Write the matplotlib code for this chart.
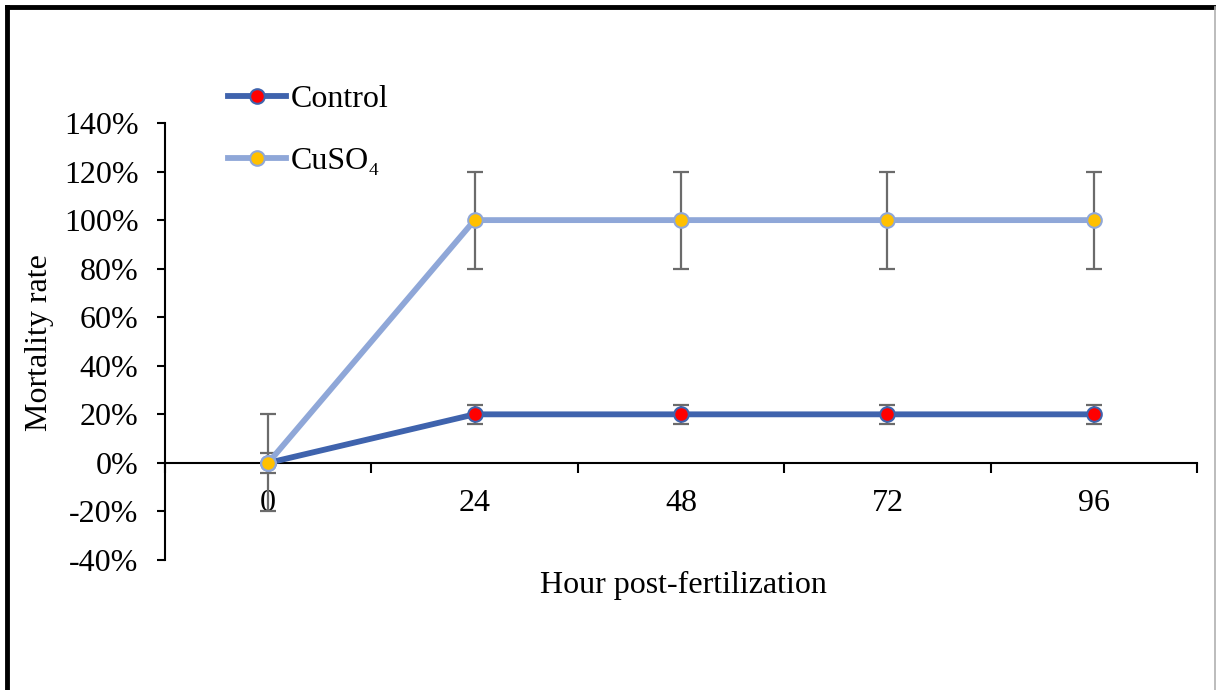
import numpy as np
import matplotlib
matplotlib.use("Agg")
from matplotlib import pyplot as plt
from matplotlib.lines import Line2D
from matplotlib.ticker import FuncFormatter

plt.rcParams['font.family'] = ['Liberation Serif', 'DejaVu Serif']

# data
hours = ['0', '24', '48', '72', '96']
control = [0.0, 0.2, 0.2, 0.2, 0.2]
control_err = [0.04, 0.04, 0.04, 0.04, 0.04]
cuso4 = [0.0, 1.0, 1.0, 1.0, 1.0]
cuso4_err = [0.2, 0.2, 0.2, 0.2, 0.2]

W, H = 1216, 690
fig = plt.figure(figsize=(W / 100, H / 100), dpi=100)
ax = fig.add_axes([165 / W, 1 - 560 / H, (1197 - 165) / W, (560 - 123) / H])

x = np.arange(len(hours))
fs = 23
lw = 4.2
ms = 10.5

ax.errorbar(x, control, yerr=control_err, fmt='none', ecolor='#6b6b6b',
            elinewidth=1.6, capsize=6, capthick=1.6, zorder=2)
ax.errorbar(x, cuso4, yerr=cuso4_err, fmt='none', ecolor='#6b6b6b',
            elinewidth=1.6, capsize=6, capthick=1.6, zorder=2)
ax.plot(x, cuso4, color='#8fa7d8', lw=lw, marker='o', ms=ms,
        mfc='#ffc000', mec='#8fa7d8', mew=1.5, zorder=4, label='CuSO\u2084')
ax.plot(x, control, color='#3f63ad', lw=lw, marker='o', ms=ms,
        mfc='#ff0000', mec='#3f63ad', mew=1.5, zorder=3, label='Control')
# redraw yellow marker at 0 on top
ax.plot(x[:1], cuso4[:1], ls='none', marker='o', ms=ms,
        mfc='#ffc000', mec='#8fa7d8', mew=1.5, zorder=5)

ax.set_xlim(-0.5, len(hours) - 0.5)
ax.set_ylim(-0.4, 1.4)
ax.set_yticks(np.arange(-0.4, 1.41, 0.2))
ax.yaxis.set_major_formatter(FuncFormatter(lambda v, p: '%d%%' % round(v * 100)))

for s in ['top', 'right']:
    ax.spines[s].set_visible(False)
ax.spines['bottom'].set_position(('data', 0))
ax.spines['bottom'].set_linewidth(1.5)
ax.spines['left'].set_linewidth(1.5)

ax.set_xticks(x)
ax.set_xticklabels(hours)
ax.set_xticks(np.arange(-0.5, len(hours), 1.0), minor=True)
ax.tick_params(axis='x', which='major', length=0, pad=19, labelsize=fs)
ax.tick_params(axis='x', which='minor', length=7, width=1.5, direction='out')
ax.tick_params(axis='y', length=6, width=1.5, direction='out', labelsize=fs, pad=13)

fig.text(683 / W, 1 - 585 / H, 'Hour post-fertilization', ha='center', va='center', fontsize=fs)
fig.text(40 / W, 1 - 343 / H, 'Mortality rate', ha='center', va='center',
         rotation=90, fontsize=fs)

handles = [
    Line2D([], [], color='#3f63ad', lw=lw, marker='o', ms=ms, mfc='#ff0000',
           mec='#3f63ad', mew=1.5),
    Line2D([], [], color='#8fa7d8', lw=lw, marker='o', ms=ms, mfc='#ffc000',
           mec='#8fa7d8', mew=1.5),
]
fig.legend(handles, ['Control', 'CuSO\u2084'], loc='upper left',
           bbox_to_anchor=(228 / W, 1 - 85 / H), frameon=False, fontsize=fs,
           handlelength=1.8, handletextpad=0.15, labelspacing=1.02,
           borderaxespad=0, borderpad=0)

# outer frame
fig.add_artist(Line2D([7 / W, 1], [1 - 7 / H, 1 - 7 / H], color='black', lw=3.5,
                      transform=fig.transFigure))
fig.add_artist(Line2D([7 / W, 7 / W], [0, 1 - 7 / H], color='black', lw=3.5,
                      transform=fig.transFigure))
fig.add_artist(Line2D([1214.5 / W, 1214.5 / W], [0, 1 - 7 / H], color='#b0b0b0', lw=1.2,
                      transform=fig.transFigure))

fig.savefig('out.png', dpi=100)
